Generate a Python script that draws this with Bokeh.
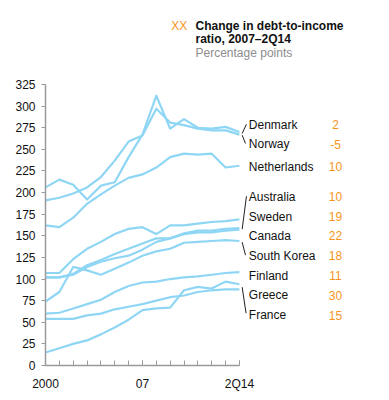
from bokeh.plotting import figure
from bokeh.models import Range1d, FixedTicker, ColumnDataSource
from bokeh.core.properties import value
from bokeh.embed import file_html
from bokeh.resources import INLINE

years = list(range(2000, 2015))

denmark = [206, 215, 209, 192, 208, 212, 241, 267, 312, 274, 285, 275, 274, 276, 270]
norway = [191, 194, 199, 206, 218, 237, 259, 266, 297, 281, 278, 274, 272, 272, 267]
netherlands = [162, 160, 171, 187, 198, 208, 217, 221, 229, 241, 245, 244, 245, 229, 231]
australia = [107, 107, 123, 135, 143, 152, 158, 160, 152, 162, 162, 164, 166, 167, 169]
sweden = [102, 102, 106, 116, 122, 129, 135, 141, 147, 147, 152, 154, 154, 156, 157]
canada = [102, 102, 105, 114, 120, 124, 127, 134, 143, 147, 153, 156, 156, 158, 159]
south_korea = [74, 85, 114, 110, 105, 112, 119, 127, 132, 135, 142, 143, 144, 145, 144]
finland = [60, 61, 66, 71, 76, 85, 92, 96, 97, 100, 102, 103, 105, 107, 108]
greece = [15, 20, 25, 29, 36, 44, 53, 64, 66, 67, 87, 91, 89, 97, 94]
france = [54, 54, 54, 58, 60, 65, 68, 71, 75, 79, 81, 85, 87, 88, 88]

series = [denmark, norway, netherlands, australia, sweden, canada,
          south_korea, finland, greece, france]

countries = ["Denmark", "Norway", "Netherlands", "Australia", "Sweden",
             "Canada", "South Korea", "Finland", "Greece", "France"]
changes = ["2", "-5", "10", "10", "19", "22", "18", "11", "30", "15"]

y_ticks = list(range(0, 326, 25))
x_major = [2000, 2007, 2014]
x_labels = {2000: "2000", 2007: "07", 2014: "2Q14"}

# layout (label placement, in chart units)
label_y = [278.7, 256.0, 229.7, 195.0, 171.9, 150.2, 126.8, 103.7, 81.4, 58.3]
label_x = 2014.68
value_x = 2020.94
leaders_x0 = [2014.20, 2014.20, 2014.20, 2014.20, 2014.20]
leaders_y0 = [268.3, 266.4, 157.6, 142.6, 90.6]
leaders_x1 = [2014.51, 2014.44, 2014.51, 2014.44, 2014.48]
leaders_y1 = [279.1, 256.8, 195.8, 127.6, 60.5]

FONT = "Liberation Sans"
LINE_COLOR = "#8FD6F5"
ORANGE = "#F7941D"
AXIS = "#9A9A9A"

px_per_year = 13.85
px_per_unit = 0.8646
FW, FH = 336, 357

p = figure(frame_width=FW, frame_height=FH,
           x_range=Range1d(2000, 2000 + FW / px_per_year),
           y_range=Range1d(0, FH / px_per_unit),
           output_backend="svg", toolbar_location=None,
           min_border_left=45, min_border_right=0, min_border_top=8,
           min_border_bottom=30)
p.outline_line_color = None
p.xgrid.visible = False
p.ygrid.visible = False
p.background_fill_color = "white"
p.border_fill_color = "white"

for s in series:
    p.line(years, s, line_color=LINE_COLOR, line_width=2.2, line_join="round")

# axes
xa = p.xaxis[0]
xa.ticker = FixedTicker(ticks=x_major, minor_ticks=years)
xa.major_label_overrides = x_labels
xa.bounds = (2000, 2014)
xa.axis_line_color = AXIS
xa.axis_line_width = 1.5
xa.major_tick_line_color = AXIS
xa.minor_tick_line_color = AXIS
xa.major_tick_in = 5
xa.major_tick_out = 0
xa.minor_tick_in = 5
xa.minor_tick_out = 0
xa.major_label_standoff = 11
xa.major_label_text_font = FONT
xa.major_label_text_font_size = "12px"
xa.major_label_text_color = "#111111"

ya = p.yaxis[0]
ya.ticker = FixedTicker(ticks=y_ticks)
ya.bounds = (0, 325)
ya.axis_line_color = AXIS
ya.axis_line_width = 1.5
ya.major_tick_line_color = AXIS
ya.major_tick_in = 0
ya.major_tick_out = 4
ya.minor_tick_line_color = None
ya.major_label_standoff = 6
ya.major_label_text_font = FONT
ya.major_label_text_font_size = "12px"
ya.major_label_text_color = "#111111"

# leader lines
p.segment(x0=leaders_x0, y0=leaders_y0, x1=leaders_x1, y1=leaders_y1,
          line_color="#222222", line_width=1)

# labels
src = ColumnDataSource(dict(x=[label_x] * len(countries), vx=[value_x] * len(countries),
                            y=label_y, name=countries, chg=changes))
p.text(x="x", y="y", text="name", source=src, text_font=value(FONT),
       text_font_size="12px", text_color="#111111", text_baseline="middle",
       text_align="left")
p.text(x="vx", y="y", text="chg", source=src, text_font=value(FONT),
       text_font_size="12px", text_color=ORANGE, text_baseline="middle",
       text_align="center")

# header
p.text(x=[2009.08], y=[392.8], text=["XX"], text_font=value(FONT),
       text_font_size="12px", text_color=ORANGE, text_baseline="middle",
       text_align="left")
p.text(x=[2010.83, 2010.83], y=[392.8, 377.4],
       text=["Change in debt-to-income", "ratio, 2007\u20132Q14"],
       text_font=value(FONT), text_font_size="12px", text_font_style="bold",
       text_color="#111111", text_baseline="middle", text_align="left")
p.text(x=[2010.83], y=[360.9], text=["Percentage points"], text_font=value(FONT),
       text_font_size="12px", text_color="#8C8C8C", text_baseline="middle",
       text_align="left")

open("out.html", "w").write(file_html(p, INLINE))
